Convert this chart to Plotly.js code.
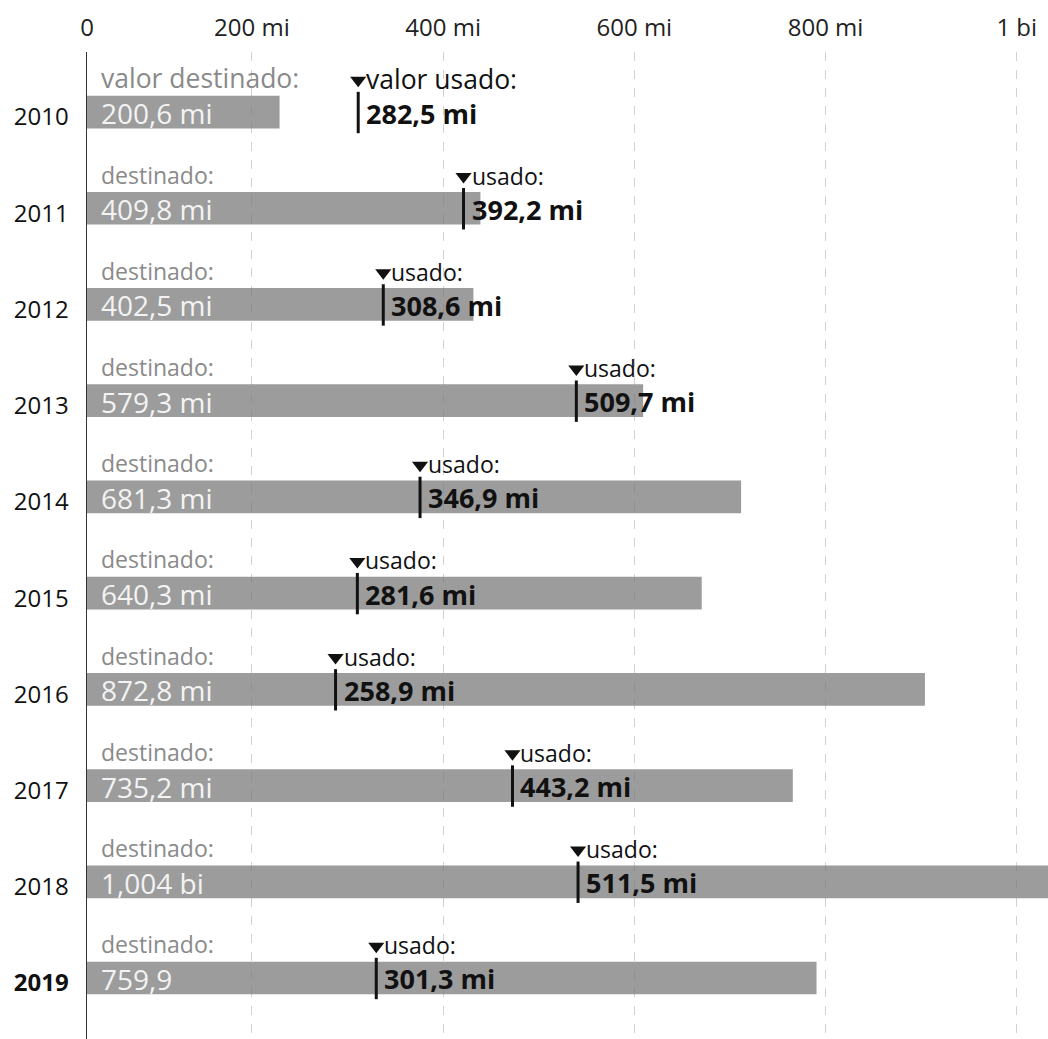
<!DOCTYPE html>
<html>
<head>
<meta charset="utf-8">
<script src="https://cdn.plot.ly/plotly-3.0.1.min.js"></script>
<style>html,body{margin:0;padding:0;background:#fff;}#chart{width:1048px;height:1039px;}</style>
</head>
<body>
<div id="chart"></div>
<script>
const years = ['2010','2011','2012','2013','2014','2015','2016','2017','2018','2019'];
const destinado = [200.6, 409.8, 402.5, 579.3, 681.3, 640.3, 872.8, 735.2, 1004, 759.9];
const usado = [282.5, 392.2, 308.6, 509.7, 346.9, 281.6, 258.9, 443.2, 511.5, 301.3];
const destLabels = ['200,6 mi','409,8 mi','402,5 mi','579,3 mi','681,3 mi','640,3 mi','872,8 mi','735,2 mi','1,004 bi','759,9'];
const usadoLabels = ['282,5 mi','392,2 mi','308,6 mi','509,7 mi','346,9 mi','281,6 mi','258,9 mi','443,2 mi','511,5 mi','301,3 mi'];
const destTitles = ['valor destinado:','destinado:','destinado:','destinado:','destinado:','destinado:','destinado:','destinado:','destinado:','destinado:'];
const usadoTitles = ['valor usado:','usado:','usado:','usado:','usado:','usado:','usado:','usado:','usado:','usado:'];
const xTickVals = [200, 400, 600, 800, 1000];
const xTickText = ['200 mi','400 mi','600 mi','800 mi','1 bi'];

const idx = years.map((_, i) => i);
const FONT = '"Open Sans", "Noto Sans", sans-serif';

const barTrace = {
  type: 'bar', orientation: 'h',
  x: destinado, y: idx, width: 0.34,
  marker: {color: 'rgba(118,118,118,0.72)', line: {width: 0}},
  hoverinfo: 'skip'
};
const lineX = [], lineY = [];
usado.forEach((u, i) => { lineX.push(u, u, null); lineY.push(i - 0.21, i + 0.22, null); });
const usedLines = {
  type: 'scatter', mode: 'lines', x: lineX, y: lineY,
  line: {color: '#111', width: 3}, hoverinfo: 'skip'
};
const usedTri = {
  type: 'scatter', mode: 'markers', x: usado, y: idx.map(i => i - 0.33),
  marker: {symbol: 'triangle-down', size: 14, color: '#111'}, hoverinfo: 'skip'
};
const gridHelper = {
  type: 'scatter', mode: 'markers', x: xTickVals, y: xTickVals.map(() => null),
  xaxis: 'x2', marker: {opacity: 0}, hoverinfo: 'skip'
};

const annotations = [];
idx.forEach(i => {
  const titleSize = i === 0 ? 26.5 : 23;
  annotations.push({x: 0, y: i - 0.35, xref: 'x', yref: 'y', xanchor: 'left', xshift: 12,
    text: destTitles[i], showarrow: false, font: {family: FONT, size: titleSize, color: '#8a8a8a'}});
  annotations.push({x: 0, y: i + 0.01, xref: 'x', yref: 'y', xanchor: 'left', xshift: 12,
    text: destLabels[i], showarrow: false, font: {family: FONT, size: 28, color: '#f3f3f3'}});
  annotations.push({x: usado[i], y: i - 0.34, xref: 'x', yref: 'y', xanchor: 'left', xshift: 6,
    text: usadoTitles[i], showarrow: false, font: {family: FONT, size: titleSize, color: '#111'}});
  annotations.push({x: usado[i], y: i + 0.01, xref: 'x', yref: 'y', xanchor: 'left', xshift: 6,
    text: '<b>' + usadoLabels[i] + '</b>', showarrow: false, font: {family: FONT, size: 27, color: '#111'}});
});

const layout = {
  width: 1048, height: 1039,
  margin: {l: 87, r: 0, t: 52, b: 0, pad: 0},
  paper_bgcolor: '#fff', plot_bgcolor: '#fff',
  showlegend: false,
  font: {family: FONT, color: '#222'},
  xaxis: {
    side: 'top', range: [0, 1001], tickvals: [0], ticktext: ['0'],
    showgrid: false, zeroline: false, showline: false,
    ticks: 'outside', ticklen: 5, tickcolor: 'rgba(0,0,0,0)',
    tickfont: {family: FONT, size: 24, color: '#222'}, fixedrange: true
  },
  xaxis2: {
    overlaying: 'x', side: 'top', anchor: 'y', range: [27.5, 1032.7],
    tickvals: xTickVals, ticktext: xTickText,
    showgrid: true, gridcolor: '#d2d2d2', griddash: 'dash', gridwidth: 1,
    zeroline: false, showline: false,
    ticks: 'outside', ticklen: 5, tickcolor: 'rgba(0,0,0,0)',
    tickfont: {family: FONT, size: 24, color: '#222'}
  },
  yaxis: {
    range: [9.634, -0.624], tickvals: idx,
    ticktext: years.map((y, i) => i === years.length - 1 ? '<b>' + y + '</b>' : y),
    showgrid: false, zeroline: false,
    showline: true, linecolor: '#333', linewidth: 1.5,
    ticks: '', ticklabelstandoff: 12, ticklabelshift: -5,
    tickfont: {family: FONT, size: 24, color: '#111'}
  },
  annotations: annotations
};

Plotly.newPlot('chart', [barTrace, usedLines, usedTri, gridHelper], layout, {staticPlot: true, displayModeBar: false});
</script>
</body>
</html>
